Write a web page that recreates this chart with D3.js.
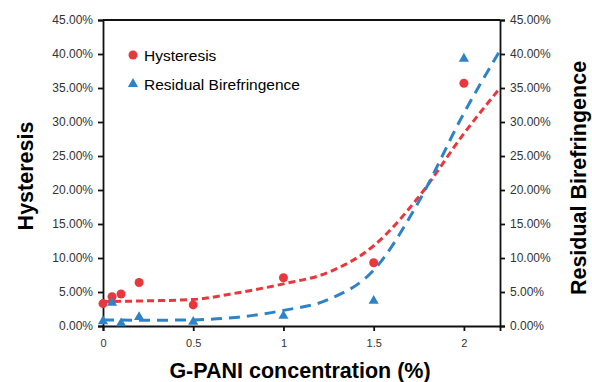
<!DOCTYPE html>
<html>
<head>
<meta charset="utf-8">
<script src="https://cdn.jsdelivr.net/npm/d3@7"></script>
<style>
  body { margin: 0; background: #fff; }
  svg text { font-family: "Liberation Sans", Arial, sans-serif; }
</style>
</head>
<body>
<div id="chart"></div>
<script>
// concentration (%) of G-PANI
const concentration = [0, 0.05, 0.1, 0.2, 0.5, 1, 1.5, 2];
// measured values in %
const hysteresis = [3.3, 4.3, 4.7, 6.4, 3.1, 7.1, 9.3, 35.7];
const birefringence = [0.7, 3.4, 0.4, 1.3, 0.6, 1.5, 3.7, 39.3];

// trend lines (%)
const trendX = [0, 0.25, 0.5, 0.75, 1, 1.25, 1.5, 1.75, 2, 2.2];
const trendHysteresis = [3.6, 3.7, 3.9, 4.9, 6.2, 7.9, 11.8, 19.0, 28.3, 35.0];
const trendBirefringence = [0.9, 0.85, 0.9, 1.3, 2.3, 3.9, 8.2, 18.3, 31.3, 40.5];

const xTicks = [0, 0.5, 1, 1.5, 2];
const yTicks = [0, 5, 10, 15, 20, 25, 30, 35, 40, 45];

const red = "#e8383d";
const blue = "#2e83c7";

const width = 592, height = 382;
const m = { top: 20, right: 92, bottom: 56, left: 103 };

const svg = d3.select("#chart").append("svg")
  .attr("width", width).attr("height", height);

const x = d3.scaleLinear().domain([0, 2.2]).range([m.left, width - m.right]);
const y = d3.scaleLinear().domain([0, 45]).range([height - m.bottom, m.top]);

// Axes
const fmt = (d) => d.toFixed(2) + "%";
svg.append("g")
  .attr("transform", "translate(" + m.left + ",0)")
  .call(d3.axisLeft(y).tickValues(yTicks).tickFormat(fmt).tickSize(5).tickPadding(5))
  .call((g) => g.selectAll("text").attr("font-size", 12).attr("fill", "#333"));

svg.append("g")
  .attr("transform", "translate(" + (width - m.right) + ",0)")
  .call(d3.axisRight(y).tickValues(yTicks).tickFormat(fmt).tickSize(5).tickPadding(5))
  .call((g) => g.selectAll("text").attr("font-size", 12).attr("fill", "#333"));

svg.append("g")
  .attr("transform", "translate(0," + (height - m.bottom) + ")")
  .call(d3.axisBottom(x).tickValues(xTicks).tickFormat(d3.format("")).tickSize(5).tickPadding(8))
  .call((g) => g.selectAll("text").attr("font-size", 11).attr("fill", "#333"));

svg.selectAll(".domain, .tick line").attr("stroke", "#111").attr("stroke-width", 1.8);

// top border
svg.append("line")
  .attr("x1", m.left).attr("x2", width - m.right)
  .attr("y1", m.top).attr("y2", m.top)
  .attr("stroke", "#111").attr("stroke-width", 1.8);

// Trend lines
const drawTrend = (vals, color, dash) => {
  svg.append("path")
    .datum(trendX)
    .attr("fill", "none")
    .attr("stroke", color)
    .attr("stroke-width", 3)
    .attr("stroke-dasharray", dash)
    .attr("d", d3.line().curve(d3.curveMonotoneX).x((d) => x(d)).y((d, i) => y(vals[i])));
};
drawTrend(trendHysteresis, red, "7,4");
drawTrend(trendBirefringence, blue, "11,7");

// Points
svg.selectAll(".hyst")
  .data(concentration)
  .enter()
  .append("circle")
  .attr("cx", (d) => x(d))
  .attr("cy", (d, i) => y(hysteresis[i]))
  .attr("r", 4.5)
  .attr("fill", red);

const tri = d3.symbol().type(d3.symbolTriangle).size(45);
svg.selectAll(".bire")
  .data(concentration)
  .enter()
  .append("path")
  .attr("d", tri)
  .attr("transform", (d, i) => "translate(" + x(d) + "," + y(birefringence[i]) + ")")
  .attr("fill", blue);

// Legend
const legend = svg.append("g");
legend.append("circle").attr("cx", 133).attr("cy", 55).attr("r", 4.5).attr("fill", red);
legend.append("text").attr("x", 144).attr("y", 60.5).attr("font-size", 15.5).text("Hysteresis");
legend.append("path").attr("d", tri).attr("transform", "translate(133,84)").attr("fill", blue);
legend.append("text").attr("x", 144).attr("y", 89.5).attr("font-size", 15.5).text("Residual Birefringence");

// Titles
svg.append("text")
  .attr("transform", "translate(33,176) rotate(-90)")
  .attr("text-anchor", "middle")
  .attr("font-size", 21.5).attr("font-weight", "bold")
  .text("Hysteresis");

svg.append("text")
  .attr("transform", "translate(586,178) rotate(-90)")
  .attr("text-anchor", "middle")
  .attr("font-size", 21.5).attr("font-weight", "bold")
  .text("Residual Birefringence");

svg.append("text")
  .attr("x", 300).attr("y", 378)
  .attr("text-anchor", "middle")
  .attr("font-size", 21.5).attr("font-weight", "bold")
  .text("G-PANI concentration (%)");
</script>
</body>
</html>
